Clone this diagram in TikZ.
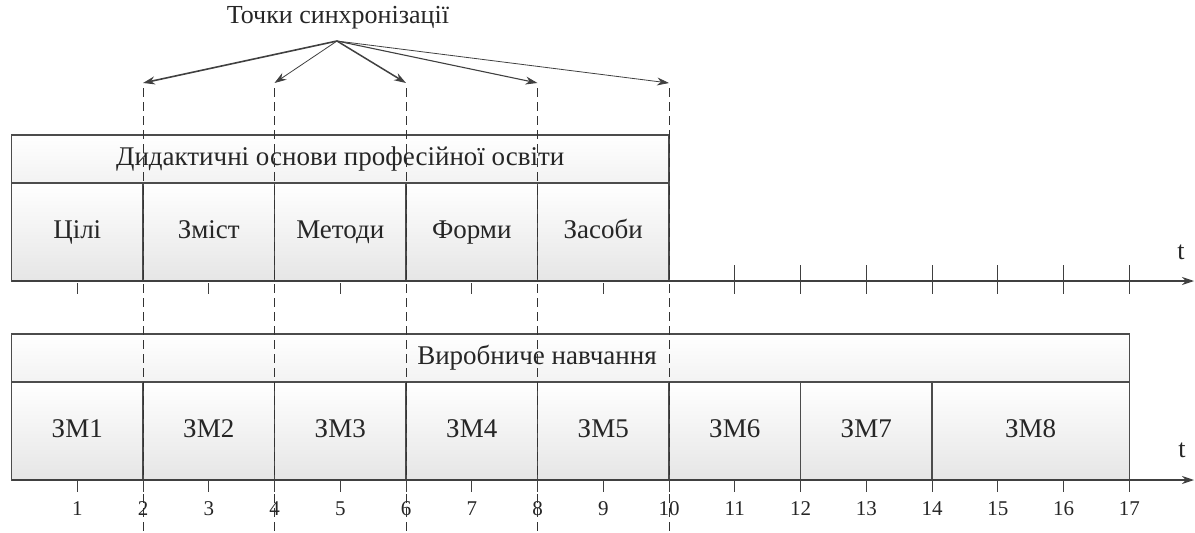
\documentclass[tikz,border=0pt]{standalone}
\usepackage{fontspec}
\setmainfont{Liberation Serif}
\usetikzlibrary{arrows.meta}
\begin{document}
\begin{tikzpicture}[x=1pt,y=-1pt,
  box/.style={draw=black!70, line width=1.1pt, top color=white, bottom color=black!10, inner sep=0pt, outer sep=0pt, anchor=north west, text=black!85, font=\fontsize{27}{29}\selectfont, text height=18pt, text depth=6pt},
  hdr/.style={box, top color=white, bottom color=black!5, minimum height=48pt},
  cellbox/.style={box, minimum height=98pt},
  sync/.style={black!80, line width=1pt, dash pattern=on 9pt off 5pt},
  arr/.style={black!75, -{Stealth[length=12pt,width=8pt]}},
  axisline/.style={black!75, line width=1.1pt, -{Stealth[length=12pt,width=8pt]}},
  tick/.style={black!75, line width=1pt},
  lab/.style={font=\fontsize{27}{29}\selectfont, text=black!85},
  num/.style={font=\fontsize{21}{23}\selectfont, text=black!85}
]
\useasboundingbox (0,0) rectangle (1195,533);
% title
\node[lab, font=\fontsize{26}{28}\selectfont] (title) at (338,18) {Точки синхронізації};
\coordinate (src) at (337,41);
% top block
\node[hdr, minimum width=657.5pt] (h1) at (11.5,135) {Дидактичні основи професійної освіти};
\foreach \n/\a/\t in {c1/0/Цілі, c2/2/Зміст, c3/4/Методи, c4/6/Форми, c5/8/Засоби}
  \node[cellbox, minimum width=131.5pt] (\n) at ({11.5+65.75*\a},183) {\t};
% bottom block
\node[hdr, minimum width=1117.75pt] (h2) at (11.5,334) {};
\node[lab, text height=18pt, text depth=6pt, inner sep=0pt] (vn) at (537,358) {Виробниче навчання};
\foreach \n/\a/\w/\t in {m1/0/2/ЗМ1, m2/2/2/ЗМ2, m3/4/2/ЗМ3, m4/6/2/ЗМ4, m5/8/2/ЗМ5, m6/10/2/ЗМ6, m7/12/2/ЗМ7, m8/14/3/ЗМ8}
  \node[cellbox, minimum width={65.75pt*\w}] (\n) at ({11.5+65.75*\a},382) {\t};
% synchronisation lines
\foreach \k in {2,4,6,8,10} {
  \coordinate (a\k) at ({11.5+65.75*\k},83);
  \coordinate (d\k) at ({11.5+65.75*\k},88);
  \coordinate (e\k) at ({11.5+65.75*\k},533);
  \draw[sync] (d\k) -- (e\k);
}
\draw[arr, line width=1.6pt] (src) -- (a2);
\draw[arr, line width=0.8pt] (src) -- (a4);
\draw[arr, line width=1.5pt] (src) -- (a6);
\draw[arr, line width=1.1pt] (src) -- (a8);
\draw[arr, line width=0.8pt] (src) -- (a10);
% axes
\coordinate (t1s) at (11.5,281);
\coordinate (t1e) at (1194,281);
\coordinate (t2s) at (11.5,480);
\coordinate (t2e) at (1194,480);
\draw[axisline] (t1s) -- (t1e);
\draw[axisline] (t2s) -- (t2e);
\node[lab, font=\fontsize{26}{28}\selectfont] (tA) at (1181,252) {t};
\node[lab, font=\fontsize{26}{28}\selectfont] (tB) at (1182,450) {t};
% ticks on top axis
\foreach \k in {1,3,5,7,9}
  \draw[tick] ({11.5+65.75*\k},283) -- ({11.5+65.75*\k},294);
\foreach \k in {11,...,17}
  \draw[tick] ({11.5+65.75*\k},265) -- ({11.5+65.75*\k},294);
% ticks and numbers on bottom axis
\foreach \k in {1,...,17} {
  \draw[tick] ({11.5+65.75*\k},481) -- ({11.5+65.75*\k},492);
  \node[num] (n\k) at ({11.5+65.75*\k},509) {\k};
}
\end{tikzpicture}
\end{document}
